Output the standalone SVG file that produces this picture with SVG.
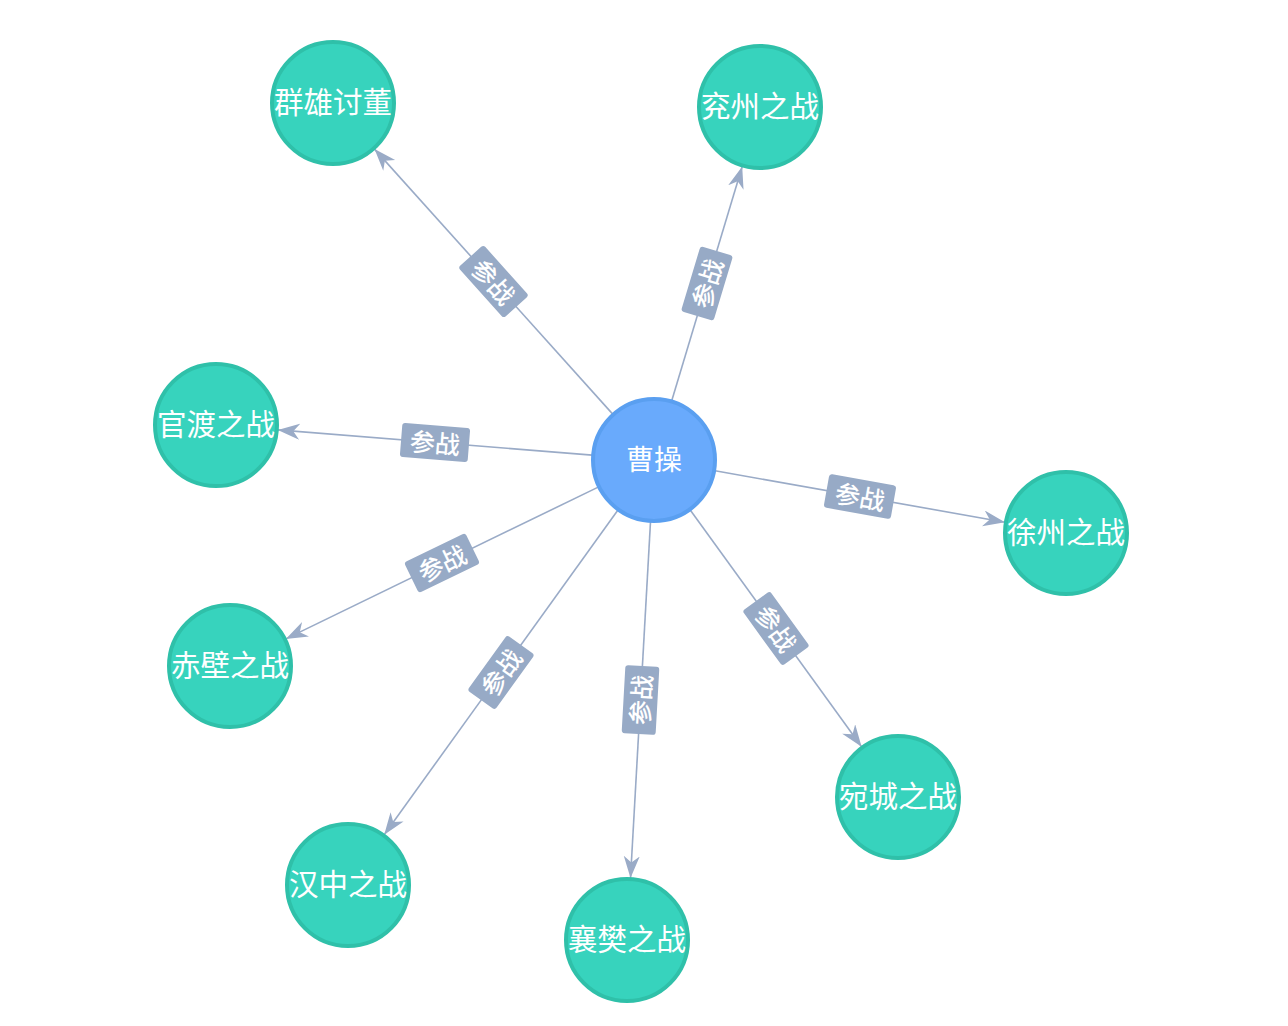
<svg xmlns="http://www.w3.org/2000/svg" width="1288" height="1026" viewBox="0 0 1288 1026">
<style>
.edge{stroke:#9aabc7;stroke-width:1.6;fill:none;marker-end:url(#arr)}
.lbl rect{fill:#97aac6}
.lbl text{fill:#ffffff;font-family:"Noto Sans CJK SC","Noto Sans",sans-serif;font-size:25px;font-weight:500;text-anchor:middle;dominant-baseline:central}
.leaf circle{fill:#37d3bd;stroke:#2fc0a9;stroke-width:4}
.center circle{fill:#69aafc;stroke:#5a9ff0;stroke-width:4}
.node text{fill:#ffffff;font-family:"Noto Sans CJK SC","Noto Sans",sans-serif;text-anchor:middle;dominant-baseline:central}
.leaf text{font-size:29.5px}
.center text{font-size:28px}
</style>
<defs>
<marker id="arr" markerUnits="userSpaceOnUse" markerWidth="24" markerHeight="18" refX="22" refY="8" orient="auto">
<path d="M0,0 L22,8 L0,16 L6.5,8 z" fill="#9aabc7"/>
</marker>
</defs>
<rect width="1288" height="1026" fill="#ffffff"/>
<g id="connectors">
<line class="edge" x1="612.5" y1="413.9" x2="374.5" y2="149.1"/>
<line class="edge" x1="671.8" y1="400.6" x2="742.2" y2="166.4"/>
<line class="edge" x1="592.2" y1="455.1" x2="277.8" y2="429.9"/>
<line class="edge" x1="715.1" y1="470.8" x2="1005.0" y2="522.2"/>
<line class="edge" x1="598.2" y1="487.1" x2="285.8" y2="638.9"/>
<line class="edge" x1="690.4" y1="510.2" x2="861.6" y2="746.8"/>
<line class="edge" x1="617.8" y1="510.3" x2="384.2" y2="834.7"/>
<line class="edge" x1="650.5" y1="521.9" x2="630.5" y2="878.1"/>
<g class="lbl" transform="translate(493.5,281.5) rotate(48.04)"><rect x="-34" y="-17" width="68" height="34" rx="3"/><text x="0" y="-1">参战</text></g>
<g class="lbl" transform="translate(707,283.5) rotate(-73.28)"><rect x="-34" y="-17" width="68" height="34" rx="3"/><text x="0" y="-1">参战</text></g>
<g class="lbl" transform="translate(435,442.5) rotate(4.57)"><rect x="-34" y="-17" width="68" height="34" rx="3"/><text x="0" y="-1">参战</text></g>
<g class="lbl" transform="translate(860,496.5) rotate(10.05)"><rect x="-34" y="-17" width="68" height="34" rx="3"/><text x="0" y="-1">参战</text></g>
<g class="lbl" transform="translate(442,563) rotate(-25.91)"><rect x="-34" y="-17" width="68" height="34" rx="3"/><text x="0" y="-1">参战</text></g>
<g class="lbl" transform="translate(776,628.5) rotate(54.09)"><rect x="-34" y="-17" width="68" height="34" rx="3"/><text x="0" y="-1">参战</text></g>
<g class="lbl" transform="translate(501,672.5) rotate(-54.24)"><rect x="-34" y="-17" width="68" height="34" rx="3"/><text x="0" y="-1">参战</text></g>
<g class="lbl" transform="translate(640.5,700) rotate(-86.78)"><rect x="-34" y="-17" width="68" height="34" rx="3"/><text x="0" y="-1">参战</text></g>
</g>
<g id="node-caocao" class="node center"><circle cx="654" cy="460" r="61"/><text x="654" y="458">曹操</text></g>
<g id="node-qunxiong" class="node leaf"><circle cx="333" cy="103" r="61"/><text x="333" y="100">群雄讨董</text></g>
<g id="node-yanzhou" class="node leaf"><circle cx="760" cy="107" r="61"/><text x="760" y="104">兖州之战</text></g>
<g id="node-guandu" class="node leaf"><circle cx="216" cy="425" r="61"/><text x="216" y="422">官渡之战</text></g>
<g id="node-xuzhou" class="node leaf"><circle cx="1066" cy="533" r="61"/><text x="1066" y="530">徐州之战</text></g>
<g id="node-chibi" class="node leaf"><circle cx="230" cy="666" r="61"/><text x="230" y="663">赤壁之战</text></g>
<g id="node-wancheng" class="node leaf"><circle cx="898" cy="797" r="61"/><text x="898" y="794">宛城之战</text></g>
<g id="node-hanzhong" class="node leaf"><circle cx="348" cy="885" r="61"/><text x="348" y="882">汉中之战</text></g>
<g id="node-xiangfan" class="node leaf"><circle cx="627" cy="940" r="61"/><text x="627" y="937">襄樊之战</text></g>
</svg>
